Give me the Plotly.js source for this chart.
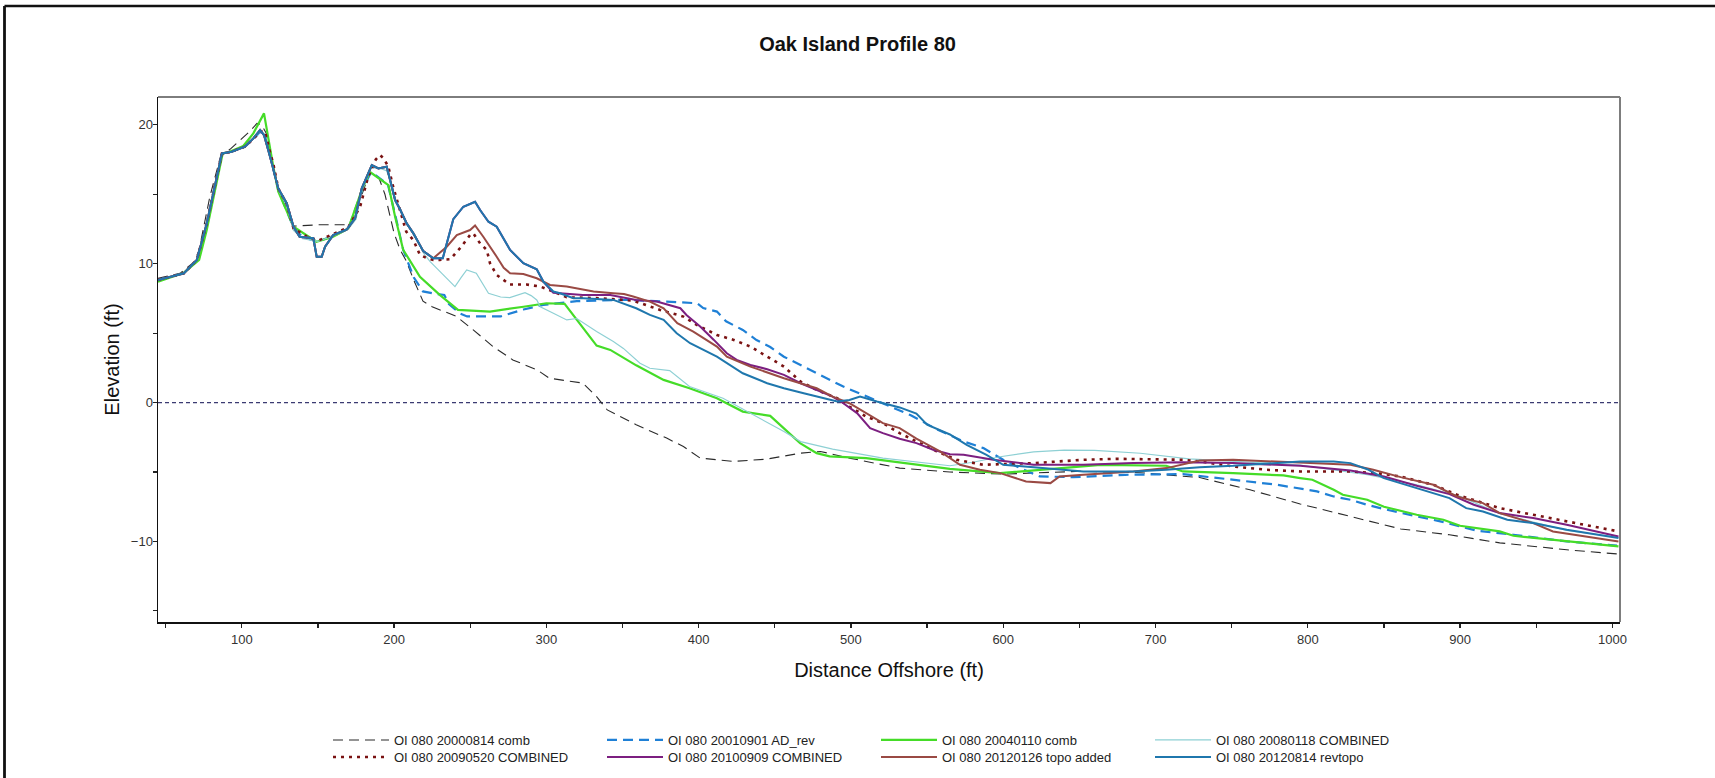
<!DOCTYPE html>
<html>
<head>
<meta charset="utf-8">
<script src="https://cdn.plot.ly/plotly-3.0.1.min.js"></script>
<style>
html,body{margin:0;padding:0;background:#fff;}
#chart{width:1715px;height:778px;}
</style>
</head>
<body>
<div id="chart"></div>
<script>
// ---- Data ----
const seriesNames = [
  "OI 080 20000814 comb",
  "OI 080 20010901 AD_rev",
  "OI 080 20040110 comb",
  "OI 080 20080118 COMBINED",
  "OI 080 20090520 COMBINED",
  "OI 080 20100909 COMBINED",
  "OI 080 20120126 topo added",
  "OI 080 20120814 revtopo"
];

const x2000 = [45,59.5,69,72,79,86,93,99,105,110,113,116,119,124,129.5,134,140,150,160,171,176,180,184,190,194,197,200,204,208,213,219,225,230,241,252,265,278,294,302,324,333,340,359,379,390,401,423,445,467,480,499,532,565,600,650,690,729,762,795,828,861,893,926,970,1003];
const y2000 = [8.95,9.3,10.15,11.0,14.8,17.7,18.3,18.9,19.5,20.1,20.0,19.4,17.6,15.4,14.3,12.7,12.75,12.8,12.8,12.8,14.2,15.3,16.6,16.2,15.0,13.6,12.2,11.0,10.2,8.8,7.3,6.9,6.67,6.2,5.23,4.03,3.07,2.35,1.75,1.4,0.43,-0.53,-1.6,-2.56,-3.17,-4.0,-4.24,-4.07,-3.64,-3.52,-4.0,-4.72,-5.0,-5.15,-4.95,-5.05,-5.4,-6.28,-7.3,-8.2,-9.1,-9.52,-10.1,-10.6,-10.9];

const x2001 = [45,62,70.5,77,87,93,102,108,112,115,119,124,134,140,150,160,170,179,185,196,201,206,213,219,226,233,236,243,248,270,285,298,320,350,379,390,399,403,412,418,429,438,447,456,467,482,495,508,521,539,556,574,587,600,611,624,646,680,718,751,780,806,817,828,839,852,887,911,935,970,1003];
const y2001 = [8.83,9.31,10.27,12.9,17.94,18.06,18.42,19.0,19.5,19.3,17.6,15.3,12.6,11.9,11.6,12.0,12.5,15.3,16.6,15.7,13.4,11.0,9.0,8.0,7.85,7.75,7.1,6.43,6.2,6.2,6.7,7.03,7.3,7.4,7.27,7.22,7.15,6.8,6.55,5.85,5.23,4.5,4.0,3.3,2.7,1.87,1.15,0.55,-0.05,-0.9,-1.9,-2.8,-3.28,-4.12,-4.72,-5.32,-5.37,-5.2,-5.15,-5.56,-5.92,-6.4,-6.76,-7.0,-7.36,-7.72,-8.56,-9.23,-9.52,-10.0,-10.3];

const x2004 = [45,62,72,77,87.5,92,101,107.6,114.6,117.5,120.7,124,134,149,160,170,178.8,184.2,196.3,200.7,206,217,230,242,263,285,300,312,320,333,342,359,377,394,412,429,447,466.6,477.5,486,510,543,565,598,624,664,707,718,751,784,795,803,817,823,839,850,871.5,889,900,926,935,970,1004];
const y2004 = [8.7,9.35,10.27,12.42,17.94,18.06,18.47,19.38,20.82,18.9,16.98,15.18,12.66,11.58,11.94,12.54,15.3,16.6,15.66,13.38,11.0,9.06,7.75,6.67,6.55,6.9,7.15,7.1,5.95,4.1,3.79,2.68,1.63,1.03,0.31,-0.65,-0.96,-2.92,-3.64,-3.88,-4.0,-4.48,-4.77,-5.08,-4.84,-4.48,-4.55,-4.96,-5.08,-5.25,-5.44,-5.56,-6.28,-6.64,-7.0,-7.5,-8.08,-8.44,-8.87,-9.28,-9.59,-10.0,-10.36];

const x2008 = [45,62,70.5,77,87,93,102,108,112,115,119,124,129.5,134,140,150,160,170,175,179,185,190,195,198,201,208,214,219,223.7,232,240,244,247.7,254,258,262,270,276,286,290,293.7,296,304.6,313.4,320,322,333,344,350.6,361.5,368,381,394,416,434,456,467,488,521,565,580,598,620,640,660,690,722,751,795,839,871,900,926,948,970,1003];
const y2008 = [8.83,9.31,10.27,12.9,17.94,18.06,18.42,19.0,19.5,19.3,17.6,15.3,14.2,12.4,11.8,11.6,12.0,12.5,13.2,15.3,16.9,16.9,16.7,15.9,14.6,12.9,12.0,10.8,10.14,9.2,8.35,9.0,9.55,9.31,8.6,7.87,7.6,7.55,7.91,7.7,7.39,6.9,6.43,5.95,6.05,5.9,5.11,4.39,3.9,2.83,2.47,2.3,1.15,0.31,-0.76,-2.09,-2.81,-3.35,-4.0,-4.55,-4.3,-3.9,-3.55,-3.42,-3.45,-3.65,-4.05,-4.24,-4.5,-5.2,-5.9,-6.76,-8.0,-8.6,-9.2,-9.7];

const x2009 = [45,62,70.5,77,87,93,102,108,112,115.3,118.6,120.7,124,129.5,134,142.7,150.3,160,170,177.7,183,188,190.8,193,196.2,199.5,203.9,208,212.7,217,221.5,225.8,230,237,244,249.9,252,256.5,260.9,263,267.4,276,287,296,304.6,313.4,335,357,374.7,390,398.7,412,423,434,445,456,467,477.5,491,499,510,521,532,543,556,569.5,587,620,652.6,674.5,718,729,751,773,795,828,845,860.6,882.5,898,909,926,948,970,1004];
const y2009 = [8.83,9.31,10.27,12.9,17.94,18.06,18.42,19.02,19.55,19.5,18.0,17.2,15.4,14.3,12.54,11.94,11.66,12.14,12.62,14.1,16.26,17.5,17.82,17.6,17.0,15.5,13.74,12.3,11.7,10.63,10.4,10.27,10.27,10.32,11.2,12.06,12.19,11.46,10.99,10.03,9.19,8.5,8.5,8.35,7.99,7.58,7.51,7.34,6.67,6.19,5.59,4.87,4.51,4.03,3.31,2.59,1.51,0.91,0.31,-0.29,-1.01,-1.48,-2.2,-2.81,-3.5,-4.12,-4.48,-4.36,-4.12,-4.05,-4.12,-4.24,-4.6,-4.84,-4.96,-4.96,-5.08,-5.32,-5.92,-6.64,-7.0,-7.6,-8.08,-8.56,-9.28];

const x2010 = [45,62,70.5,77,87,93.4,102,107.6,112,114.6,118.6,124,129.5,134,138,147,149.2,152.5,154.7,160,169,174.4,178.8,185.4,189.7,195.2,197.4,200.7,204,208.3,212.7,219.2,225.8,232,238.9,245.5,253.2,256.5,262,267.4,276.2,284.9,293.7,298,304.6,324,342,359,372.5,388,392,401,410,418.5,425,434,445,456,467,477.5,488,495,504,512.6,521,532,543,554,565,574,593.5,620,652.6,685.5,718,751,795,828,850,871.5,893,909,926,948,970,1004];
const y2010 = [8.83,9.31,10.27,12.9,17.94,18.06,18.42,19.02,19.62,19.26,17.7,15.42,14.35,12.66,11.94,11.83,10.5,10.5,11.22,12.06,12.47,13.26,15.42,17.1,16.86,16.98,16.02,14.58,13.9,12.9,12.18,10.9,10.39,10.39,13.2,14.1,14.46,13.86,13.02,12.66,10.99,10.03,9.6,8.71,7.9,7.75,7.75,7.39,7.27,6.79,6.31,5.47,4.51,3.55,3.07,2.71,2.4,1.99,1.39,0.91,0.43,-0.05,-0.76,-1.84,-2.2,-2.6,-2.92,-3.4,-3.72,-3.76,-4.12,-4.48,-4.48,-4.36,-4.29,-4.36,-4.55,-4.9,-5.32,-5.99,-6.59,-7.36,-7.96,-8.32,-8.8,-9.64];

const x2012a = [45,62,70.5,77,87,93.4,102,107.6,112,114.6,118.6,124,129.5,134,138,147,149.2,152.5,154.7,160,169,174.4,178.8,185.4,189.7,195.2,197.4,200.7,204,208.3,212.7,219.2,225.8,234.6,241.2,249.9,253.2,258.6,267.4,272,276.2,284.9,293.7,302.4,313.4,324.3,331,344,351,357,368,377,386,396.5,412,418.5,434,456,467,477.5,488,499,521,532,543,558.5,571.6,584.7,598,615,631,637,652.6,685.5,707.4,729,751,795,828,843,861,882.5,898,915,926,948,961,1004];
const y2012a = [8.83,9.31,10.27,12.9,17.94,18.06,18.42,19.02,19.62,19.26,17.7,15.42,14.35,12.66,11.94,11.83,10.5,10.5,11.22,12.06,12.47,13.26,15.42,17.1,16.86,16.98,16.02,14.58,13.9,12.9,12.18,10.9,10.39,11.22,12.06,12.42,12.75,11.94,10.5,9.7,9.31,9.26,8.95,8.47,8.35,8.11,7.99,7.87,7.82,7.63,7.27,6.79,5.71,5.11,4.03,3.31,2.59,1.75,1.39,1.03,0.43,-0.05,-1.48,-1.84,-2.6,-3.52,-4.48,-4.84,-5.08,-5.68,-5.8,-5.32,-5.2,-4.96,-4.72,-4.17,-4.12,-4.3,-4.48,-4.84,-5.37,-5.92,-6.76,-7.24,-7.96,-8.68,-9.28,-10.0];

const x2012b = [45,62,70.5,77,87,93.4,102,107.6,112,114.6,118.6,124,129.5,134,138,147,149.2,152.5,154.7,160,169,174.4,178.8,185.4,189.7,195.2,197.4,200.7,204,208.3,212.7,219.2,225.8,232,238.9,245.5,253.2,256.5,262,267.4,276.2,284.9,293.7,298,304.6,309,317.8,324.3,344,359,368,377,385.6,394.4,412,429,445,456,469,477.5,491,499,506,517,532,543,550,565,576,589,600,620,652.6,685.5,707,729,751,795,817,828,839,850,871.5,893,904,915,931,948,970,1004];
const y2012b = [8.83,9.31,10.27,12.9,17.94,18.06,18.42,19.02,19.62,19.26,17.7,15.42,14.35,12.66,11.94,11.83,10.5,10.5,11.22,12.06,12.47,13.26,15.42,17.1,16.86,16.98,16.02,14.58,13.9,12.9,12.18,10.9,10.39,10.39,13.2,14.1,14.46,13.86,13.02,12.66,10.99,10.03,9.6,8.71,7.99,7.87,7.51,7.51,7.39,6.79,6.31,5.95,4.99,4.27,3.31,2.11,1.39,1.03,0.67,0.43,0.07,0.19,0.43,0.07,-0.35,-0.8,-1.6,-2.3,-3.04,-3.76,-4.48,-4.65,-4.96,-4.96,-4.84,-4.65,-4.55,-4.24,-4.24,-4.36,-4.8,-5.44,-6.16,-6.88,-7.6,-7.84,-8.44,-8.68,-9.16,-9.76];

const xTickVals = [100,200,300,400,500,600,700,800,900,1000];
const yTickVals = [-10,0,10,20];

// ---- Styles ----
const FONT = "Liberation Sans, Arial, Helvetica, sans-serif";
const styles = [
  {color:"#2a2a2a", width:1.1, dash:"10px,6px", legend:"legend"},
  {color:"#1f80d6", width:2.2, dash:"10px,6px", legend:"legend"},
  {color:"#45dc28", width:2.2, dash:"solid",    legend:"legend"},
  {color:"#8ed0d4", width:1.2, dash:"solid",    legend:"legend"},
  {color:"#7a1212", width:2.6, dash:"3px,5px",  legend:"legend2"},
  {color:"#7c1f80", width:2.0, dash:"solid",    legend:"legend2"},
  {color:"#9a4a44", width:2.0, dash:"solid",    legend:"legend2"},
  {color:"#1f77ad", width:2.0, dash:"solid",    legend:"legend2"}
];
const xs = [x2000,x2001,x2004,x2008,x2009,x2010,x2012a,x2012b];
const ys = [y2000,y2001,y2004,y2008,y2009,y2010,y2012a,y2012b];

const traces = xs.map((xv,i)=>({
  type:"scatter", mode:"lines", x:xv, y:ys[i], name:seriesNames[i],
  legend: styles[i].legend,
  line:{color:styles[i].color, width:styles[i].width, dash:styles[i].dash},
  hoverinfo:"skip"
}));

const L=158, R=95, T=97, B=156, W=1715, H=778;
const xr=[45,1005], yr=[-15.8,22];
const tickFont = {family:FONT, size:13, color:"#333"};
const legendCommon = {
  orientation:"h", xanchor:"left", yanchor:"middle",
  xref:"container", yref:"container", x:328/W,
  font:{family:FONT, size:13, color:"#222"},
  itemwidth:56, entrywidth:203, entrywidthmode:"pixels",
  bgcolor:"rgba(0,0,0,0)", borderwidth:0, traceorder:"normal",
  itemclick:false, itemdoubleclick:false
};

const layout = {
  width:W, height:H,
  margin:{l:L, r:R, t:T, b:B, pad:0, autoexpand:false},
  paper_bgcolor:"#fff", plot_bgcolor:"#fff",
  font:{family:FONT, color:"#222"},
  title:{text:"<b>Oak Island Profile 80</b>", font:{family:FONT, size:20, color:"#111"},
         x:0.5, xref:"container", xanchor:"center", y:1-44/778, yref:"container", yanchor:"middle"},
  showlegend:true,
  legend:Object.assign({}, legendCommon, {y:1-740/H}),
  legend2:Object.assign({}, legendCommon, {y:1-757/H}),
  xaxis:{
    range:xr, tickvals:xTickVals, ticks:"outside", ticklen:4, tickwidth:1.2, tickcolor:"#222",
    minor:{dtick:50, tick0:0, ticks:"outside", ticklen:4, tickwidth:1.2, tickcolor:"#222", showgrid:false},
    showgrid:false, zeroline:false, showline:true, linecolor:"#111", linewidth:1.5,
    tickfont:tickFont, ticklabelstandoff:1, fixedrange:true, automargin:false,
    title:{text:"Distance Offshore (ft)", font:{family:FONT, size:20, color:"#111"}, standoff:17}
  },
  yaxis:{
    range:yr, tickvals:yTickVals, ticks:"outside", ticklen:4, tickwidth:1.2, tickcolor:"#222",
    minor:{dtick:5, tick0:0, ticks:"outside", ticklen:4, tickwidth:1.2, tickcolor:"#222", showgrid:false},
    showgrid:false, zeroline:false, showline:true, linecolor:"#111", linewidth:1.5,
    tickfont:tickFont, ticklabelstandoff:-3, fixedrange:true, automargin:false,
    title:{text:"Elevation (ft)", font:{family:FONT, size:20, color:"#111"}, standoff:6}
  },
  xaxis2:{overlaying:"x", anchor:"y", side:"bottom", range:xr, tickvals:xTickVals,
    ticks:"inside", ticklen:3, tickwidth:1.2, tickcolor:"#222", showticklabels:false,
    minor:{dtick:50, tick0:0, ticks:"inside", ticklen:3, tickwidth:1.2, tickcolor:"#222"},
    showgrid:false, zeroline:false, showline:false, fixedrange:true},
  yaxis2:{overlaying:"y", anchor:"x", side:"left", range:yr, tickvals:yTickVals,
    ticks:"inside", ticklen:3, tickwidth:1.2, tickcolor:"#222", showticklabels:false,
    minor:{dtick:5, tick0:0, ticks:"inside", ticklen:3, tickwidth:1.2, tickcolor:"#222"},
    showgrid:false, zeroline:false, showline:false, fixedrange:true},
  shapes:[
    // zero reference line
    {type:"line", xref:"paper", x0:0, x1:1, yref:"y", y0:0, y1:0, layer:"below",
     line:{color:"#3b3b72", width:1.2, dash:"4px,3px"}},
    // plot frame top and right (grey)
    {type:"line", xref:"paper", yref:"paper", x0:0, x1:1, y0:1, y1:1, line:{color:"#7d7d7d", width:2}},
    {type:"line", xref:"paper", yref:"paper", x0:1, x1:1, y0:0, y1:1, line:{color:"#7d7d7d", width:2}},
    // outer figure frame (top and left)
    {type:"line", xref:"paper", yref:"paper", x0:(4.5-L)/1462, x1:(1716-L)/1462, y0:(622-6)/525, y1:(622-6)/525, line:{color:"#111", width:2.5}},
    {type:"line", xref:"paper", yref:"paper", x0:(4.5-L)/1462, x1:(4.5-L)/1462, y0:(622-6)/525, y1:(622-780)/525, line:{color:"#111", width:2.8}}
  ],
  hovermode:false
};

Plotly.newPlot("chart", traces, layout, {displayModeBar:false, staticPlot:true});
</script>
</body>
</html>
